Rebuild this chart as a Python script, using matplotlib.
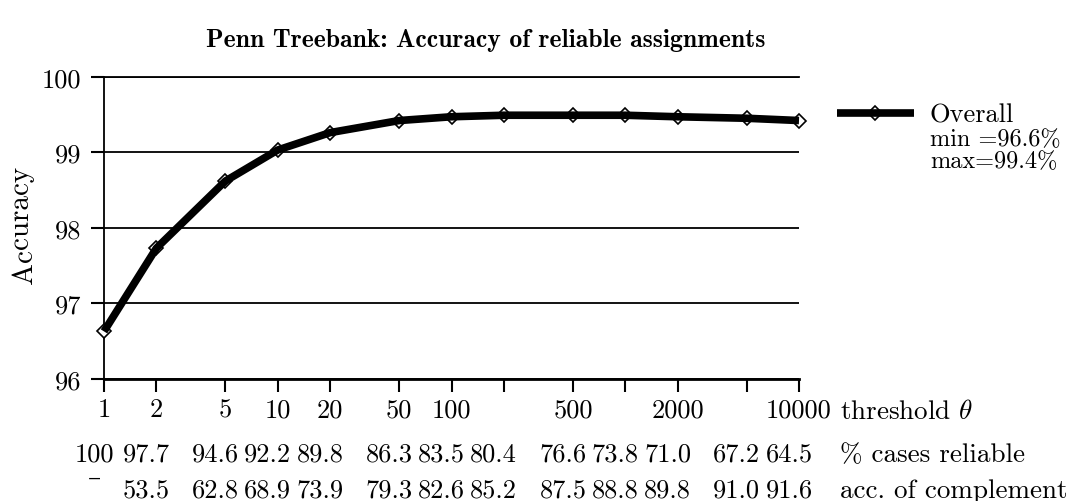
import matplotlib
matplotlib.use("Agg")
import matplotlib.pyplot as plt
from matplotlib.transforms import blended_transform_factory, offset_copy
from matplotlib.legend_handler import HandlerTuple

plt.rcParams['font.family'] = ['cmr10', 'DejaVu Serif']
plt.rcParams['mathtext.fontset'] = 'cm'
plt.rcParams['axes.formatter.use_mathtext'] = True

# ---- data ----
thresholds = [1, 2, 5, 10, 20, 50, 100, 200, 500, 1000, 2000, 5000, 10000]
accuracy = [96.63, 97.73, 98.62, 99.03, 99.26, 99.42, 99.47, 99.49, 99.49,
            99.49, 99.47, 99.45, 99.42]
tick_labels = ["1", "2", "5", "10", "20", "50", "100", "", "500", "", "2000", "", "10000"]
pct_reliable = ["100", "97.7", "94.6", "92.2", "89.8", "86.3", "83.5", "80.4",
                "76.6", "73.8", "71.0", "67.2", "64.5"]
acc_complement = ["\u2013", "53.5", "62.8", "68.9", "73.9", "79.3", "82.6", "85.2",
                  "87.5", "88.8", "89.8", "91.0", "91.6"]
y_ticks = [96, 97, 98, 99, 100]
series_name = "Overall"
stats_lines = ["min =96.6%", "max=99.4%"]
row_names = [r"threshold $\theta$", "% cases reliable", "acc. of complement"]
title = "Penn Treebank: Accuracy of reliable assignments"

W, H = 1073, 502
fig = plt.figure(figsize=(W / 100, H / 100), dpi=100)

def fx(px):
    return px / W

def fy(py):
    return 1 - py / H

FS = 19

L, R, T, B = 104, 799, 77.7, 380
ax = fig.add_axes([fx(L), fy(B), fx(R) - fx(L), fy(T) - fy(B)])

ax.set_xscale('log')
ax.set_xlim(thresholds[0], thresholds[-1])
ax.set_ylim(96, 100)

# markers below thick line
ax.plot(thresholds, accuracy, linestyle='none', marker='D', markersize=7.5,
        mfc='white', mec='black', mew=1.2, zorder=3, clip_on=False)
ax.plot(thresholds, accuracy, color='black', lw=5.5, zorder=4,
        solid_capstyle='butt', solid_joinstyle='round', clip_on=False)

ax.set_yticks(y_ticks)
ax.set_yticklabels([str(v) for v in y_ticks])
ax.set_xticks(thresholds)
ax.set_xticklabels(tick_labels)
ax.minorticks_off()

ax.grid(axis='y', color='black', lw=1.3)
ax.set_axisbelow(True)
ax.spines['right'].set_visible(False)
ax.spines['top'].set_linewidth(1.3)
ax.spines['left'].set_linewidth(1.3)
ax.spines['bottom'].set_linewidth(2.0)

ax.tick_params(axis='both', direction='out', length=9.5, width=1.5,
               labelsize=FS, color='black')
ax.tick_params(axis='x', pad=4)
ax.tick_params(axis='y', pad=7)

# title
fig.text(fx(486), fy(47), title, ha='center', va='baseline',
         fontsize=18.5, family='cmb10')

# table rows under the axis (typeset slightly left of the ticks)
trans = blended_transform_factory(ax.transData, fig.transFigure)
for x, a, b in zip(thresholds, pct_reliable, acc_complement):
    ta = offset_copy(trans, fig=fig, x=-10, y=0, units='dots')
    ax.text(x, fy(462), a, transform=ta, ha='center', va='baseline',
            fontsize=FS, clip_on=False)
    tb = offset_copy(trans, fig=fig, x=-10, y=12 if b == "\u2013" else 0, units='dots')
    ax.text(x, fy(498), b, transform=tb, ha='center', va='baseline',
            fontsize=FS, clip_on=False)

for name, by in zip(row_names, [419, 462, 498]):
    fig.text(fx(840), fy(by), name, ha='left', va='baseline', fontsize=19.5)

# legend
mk = plt.Line2D([], [], linestyle='none', marker='D', markersize=7,
                mfc='white', mec='black', mew=1.2)
ln = plt.Line2D([], [], color='black', lw=5.5, solid_capstyle='butt')
leg = fig.legend([(mk, ln)], [series_name], loc='center left',
                 bbox_to_anchor=(fx(837), fy(116)), frameon=False,
                 borderpad=0, borderaxespad=0, handlelength=2.9,
                 handletextpad=0.6, fontsize=FS,
                 handler_map={tuple: HandlerTuple(ndivide=1)})

for i, s in enumerate(stats_lines):
    fig.text(fx(930), fy(146 + 22 * i), s, ha='left', va='baseline', fontsize=17.5)

# y label "Ac" + raised "curacy"
YS = 21
t1 = fig.text(fx(32), fy(284), "Ac", rotation=90, rotation_mode='anchor',
              ha='left', va='baseline', fontsize=YS)
fig.canvas.draw()
bb = t1.get_window_extent(fig.canvas.get_renderer())
fig.text(fx(28), bb.y1 / fig.bbox.height, "curacy", rotation=90,
         rotation_mode='anchor', ha='left', va='baseline', fontsize=YS)

fig.savefig("out.png", dpi=100)
